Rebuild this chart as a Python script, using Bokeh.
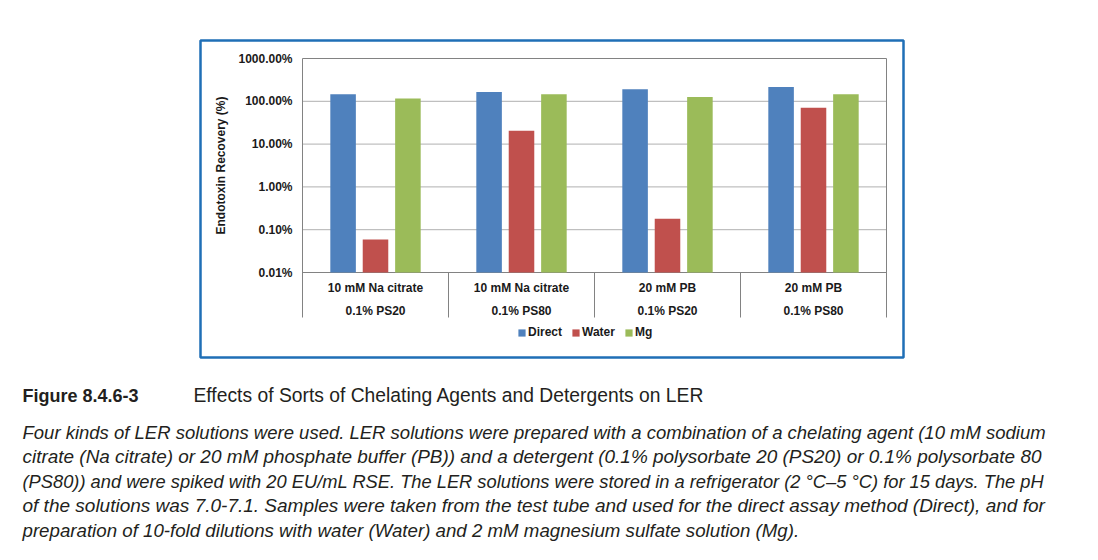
import math
from bokeh.plotting import figure
from bokeh.layouts import column, row
from bokeh.models import Range1d, Legend, LegendItem, Label, ColumnDataSource, Spacer
from bokeh.core.properties import value
from bokeh.transform import dodge
from bokeh.embed import file_html
from bokeh.resources import INLINE

# ---------------- data ----------------
line1 = ["10 mM Na citrate", "10 mM Na citrate", "20 mM PB", "20 mM PB"]
line2 = ["0.1% PS20", "0.1% PS80", "0.1% PS20", "0.1% PS80"]
series = ["Direct", "Water", "Mg"]
direct = [146, 165, 191, 216]
water = [0.059, 20.6, 0.181, 71]
mg = [116, 146, 126, 146]
y_ticks = [0.01, 0.1, 1, 10, 100, 1000]
y_tick_labels = ["0.01%", "0.10%", "1.00%", "10.00%", "100.00%", "1000.00%"]
y_title = "Endotoxin Recovery (%)"
colors = ["#4f81bd", "#c0504d", "#9bbb59"]

fig_label = "Figure 8.4.6-3"
fig_title = "Effects of Sorts of Chelating Agents and Detergents on LER"
caption_lines = [
    "Four kinds of LER solutions were used. LER solutions were prepared with a combination of a chelating agent (10 mM sodium",
    "citrate (Na citrate) or 20 mM phosphate buffer (PB)) and a detergent (0.1% polysorbate 20 (PS20) or 0.1% polysorbate 80",
    "(PS80)) and were spiked with 20 EU/mL RSE. The LER solutions were stored in a refrigerator (2 \u00b0C\u20135 \u00b0C) for 15 days. The pH",
    "of the solutions was 7.0-7.1. Samples were taken from the test tube and used for the direct assay method (Direct), and for",
    "preparation of 10-fold dilutions with water (Water) and 2 mM magnesium sulfate solution (Mg).",
]

FONT = "Liberation Sans"
BORDER = "#828282"
GRID = "#b0b0b0"
TXT = "#1a1a1a"
BLUE = "#1f6fb6"
W, H = 1098, 560

# ---------------- layout geometry (canvas px) ----------------
PAD = 3
BL, BR, BT, BB = 200, 903, 40, 357        # blue box (frame) edges
PL, PR, PT, PB = 302, 886, 58, 272        # plot area edges
TABLE_B = 317                             # bottom of category table

n = len(line1)
centers = [i + 0.5 for i in range(n)]
bounds = list(range(n + 1))

ux = (PR - PL) / n                                    # px per category
dec = (PB - PT) / (math.log10(y_ticks[-1]) - math.log10(y_ticks[0]))   # px per decade
x_start = -(PL - BL) / ux
x_end = n + (BR - PR) / ux
y_lo = 10 ** (math.log10(y_ticks[0]) - (BB - PB) / dec)
y_hi = 10 ** (math.log10(y_ticks[-1]) + (PT - BT) / dec)
y_table = 10 ** (math.log10(y_ticks[0]) - (TABLE_B - PB) / dec)

p = figure(width=(BR - BL) + 2 * PAD, height=(BB - BT) + 2 * PAD,
           x_range=Range1d(x_start, x_end), y_range=Range1d(y_lo, y_hi), y_axis_type="log",
           x_axis_location=None, y_axis_location=None, toolbar_location=None,
           output_backend="svg", min_border=PAD)
p.background_fill_color = "white"
p.border_fill_color = "white"
p.outline_line_color = BLUE
p.outline_line_width = 2.5
p.xgrid.visible = False
p.ygrid.visible = False

# gridlines (interior) and plot-area border
p.segment(x0=bounds[0], x1=bounds[-1], y0=y_ticks[1:-1], y1=y_ticks[1:-1],
          line_color=GRID, line_width=1)
p.segment(x0=bounds[0], x1=bounds[-1], y0=[y_ticks[0], y_ticks[-1]], y1=[y_ticks[0], y_ticks[-1]],
          line_color=BORDER, line_width=1)
# outer verticals (plot area sides + table) and inner table separators
p.segment(x0=[bounds[0], bounds[-1]], x1=[bounds[0], bounds[-1]], y0=y_table, y1=y_ticks[-1],
          line_color=BORDER, line_width=1)
p.segment(x0=bounds[1:-1], x1=bounds[1:-1], y0=y_table, y1=y_ticks[0],
          line_color=BORDER, line_width=1)

# bars
src = ColumnDataSource(dict(x=centers, Direct=direct, Water=water, Mg=mg))
offsets = [-0.222, 0.0, 0.222]
renderers = []
for s, off, col in zip(series, offsets, colors):
    r = p.vbar(x=dodge("x", off), top=s, bottom=y_ticks[0], width=0.175,
               source=src, fill_color=col, line_color=None)
    renderers.append(r)

# y tick labels and title
p.text(x=bounds[0], y=y_ticks, text=y_tick_labels, x_offset=-10,
       text_align="right", text_baseline="middle", text_font=value(FONT),
       text_font_size="12px", text_font_style="bold", text_color=TXT)
p.text(x=[bounds[0]], y=[math.sqrt(y_ticks[0] * y_ticks[-1])], text=[y_title],
       angle=math.pi / 2, x_offset=220 - PL, text_align="center", text_baseline="middle",
       text_font=value(FONT), text_font_size="12px", text_font_style="bold", text_color=TXT)

# category table labels
p.text(x=centers, y=y_ticks[0], text=line1, y_offset=15, text_align="center",
       text_baseline="middle", text_font=value(FONT), text_font_size="12px",
       text_font_style="bold", text_color=TXT)
p.text(x=centers, y=y_ticks[0], text=line2, y_offset=38, text_align="center",
       text_baseline="middle", text_font=value(FONT), text_font_size="12px",
       text_font_style="bold", text_color=TXT)

legend = Legend(items=[LegendItem(label=s, renderers=[r]) for s, r in zip(series, renderers)],
                orientation="horizontal", location=(517 - BL, 18),
                glyph_width=9, glyph_height=9, label_standoff=2, spacing=9,
                padding=0, margin=0, border_line_color=None, background_fill_alpha=0,
                label_text_font=FONT, label_text_font_size="12px", label_text_font_style="bold",
                label_text_color=TXT, label_height=12)
p.add_layout(legend, "center")

# ---------------- caption figure ----------------
TOP = BT - PAD
CAPH = H - (TOP + (BB - BT) + 2 * PAD)
cap = figure(width=W, height=CAPH, x_range=Range1d(0, W), y_range=Range1d(0, CAPH),
             x_axis_location=None, y_axis_location=None, toolbar_location=None,
             output_backend="svg", min_border=0)
cap.outline_line_color = None
cap.xgrid.visible = False
cap.ygrid.visible = False
cap.border_fill_color = "white"

CAP = "#231f20"
def cap_label(text, x, y_canvas, size, style):
    cap.add_layout(Label(x=x, y=H - y_canvas, x_units="screen", y_units="screen", text=text,
                         text_baseline="middle", text_font=FONT, text_font_size=size,
                         text_font_style=style, text_color=CAP))

cap_label(fig_label, 22, 395, "18px", "bold")
cap_label(fig_title, 193, 395, "19.3px", "normal")
line_y = [432, 456, 480.5, 505, 529.5]
line_size = ["18.5px", "18.95px", "18.3px", "19px", "18.7px"]   # per-line size to mimic justified text
for t, yy, fs in zip(caption_lines, line_y, line_size):
    cap_label(t, 22, yy, fs, "italic")

layout = column(Spacer(width=W, height=TOP),
                row(Spacer(width=BL - PAD, height=(BB - BT) + 2 * PAD), p),
                cap)

open("out.html", "w").write(file_html(layout, INLINE))
